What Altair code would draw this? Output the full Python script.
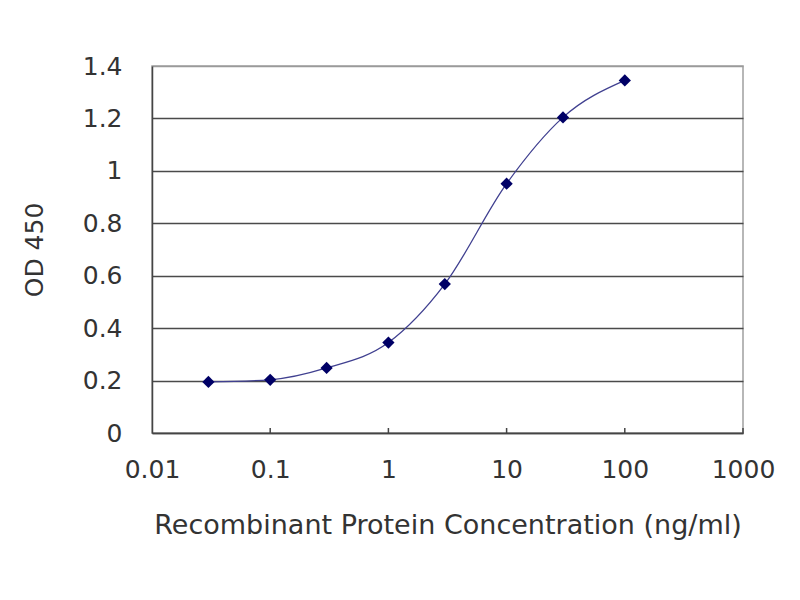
import pandas as pd
import altair as alt

# concentration (ng/ml) and OD 450 readings
conc = [0.03, 0.1, 0.3, 1, 3, 10, 30, 100]
od450 = [0.195, 0.203, 0.248, 0.345, 0.568, 0.951, 1.204, 1.345]

x_ticks = [0.01, 0.1, 1, 10, 100, 1000]
y_ticks = [0, 0.2, 0.4, 0.6, 0.8, 1.0, 1.2, 1.4]

FONT = 'DejaVu Sans'
W, H = 591, 367


def build_chart():
    data = pd.DataFrame({'conc': conc, 'od': od450})
    ticks = pd.DataFrame({'t': x_ticks[1:]})

    x = alt.X('conc:Q',
              scale=alt.Scale(type='log', domain=[0.01, 1000]),
              axis=alt.Axis(values=x_ticks, format='~g', grid=False, ticks=False,
                            labelFlush=False, labelPadding=24, titlePadding=30,
                            titleFontSize=27,
                            title='Recombinant Protein Concentration (ng/ml)'))
    # top gridline (1.4) is lighter, like the frame
    grid_col = {'condition': {'test': 'datum.value >= 1.39', 'value': '#9a9a9a'},
                'value': '#4a4a4a'}
    y = alt.Y('od:Q',
              scale=alt.Scale(domain=[0, 1.4]),
              axis=alt.Axis(values=y_ticks, format='~g', grid=True, ticks=False,
                            gridColor=grid_col,
                            labelPadding=30, titlePadding=35, title='OD 450'))

    base = alt.Chart(data).encode(x=x, y=y)
    curve = base.mark_line(interpolate='monotone', color='#404090', strokeWidth=1.3)
    dots = base.mark_point(shape='diamond', filled=True, color='#000066', size=150, opacity=1)

    # little upward tick marks at each decade on the bottom axis
    tick_marks = alt.Chart(ticks).mark_rule(color='#444', strokeWidth=1.5).encode(
        x=alt.X('t:Q', scale=alt.Scale(type='log', domain=[0.01, 1000])),
        y=alt.value(H - 5),
        y2=alt.value(H),
    )

    chart = (curve + dots + tick_marks).properties(
        width=W, height=H,
        autosize=alt.AutoSizeParams(type='none'),
        padding={'left': 144, 'top': 58, 'right': 49, 'bottom': 110},
    ).configure_view(
        stroke='#a0a0a0', strokeWidth=1.5
    ).configure_axis(
        labelFont=FONT, titleFont=FONT, labelFontSize=25, titleFontSize=25,
        labelColor='#333', titleColor='#333', titleFontWeight='normal',
        domainColor='#444', domainWidth=1.5, gridWidth=1.6,
    )
    return chart


def main():
    chart = build_chart()
    chart.save('out.html', embed_options={'renderer': 'svg', 'actions': False})


main()
